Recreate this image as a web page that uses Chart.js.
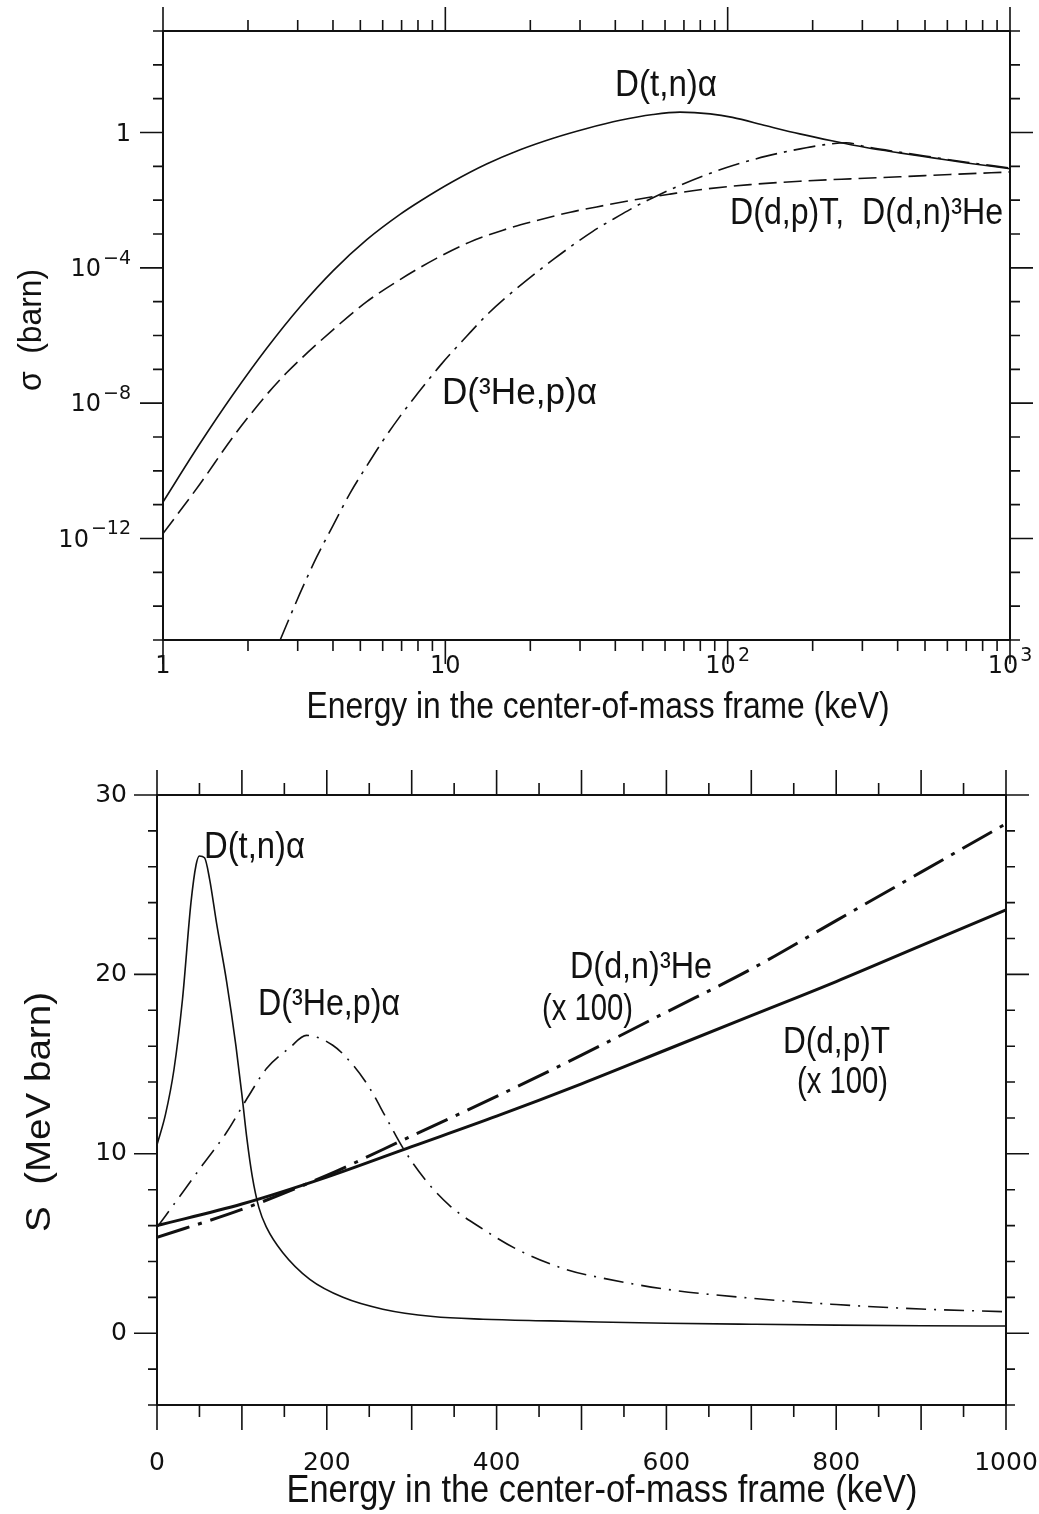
<!DOCTYPE html>
<html>
<head>
<meta charset="utf-8">
<title>Fusion cross sections and S-functions</title>
<script src="https://cdn.jsdelivr.net/npm/chart.js@4.4.1/dist/chart.umd.min.js"></script>
<style>
  html, body { margin: 0; padding: 0; background: #fff; }
  #page { position: relative; width: 1039px; height: 1514px; overflow: hidden; background: #fff; }
  canvas { position: absolute; left: 0; }
  #sigma { top: 0; }
  #sfac { top: 740px; }
</style>
</head>
<body>
<div id="page">
  <canvas id="sigma" width="1039" height="740"></canvas>
  <canvas id="sfac" width="1039" height="774"></canvas>
</div>
<script>
// ---- upper panel: cross section sigma (barn) vs E_cm (keV), log-log ----
const dtE = [1, 1.35, 1.77, 2.33, 3.06, 4.01, 5.27, 6.91, 8.13, 10.6, 14.0, 18.4, 24.1, 31.7, 41.6, 54.4, 67.8, 86.7, 104, 137, 180, 236, 309, 406, 534, 703, 1000];
const dtSigma = [1.2e-11, 6.3e-10, 1.8e-8, 4.2e-7, 7.1e-6, 8.3e-5, 6.8e-4, 3.8e-3, 9.3e-3, 0.035, 0.117, 0.31, 0.68, 1.32, 2.3, 3.4, 4.0, 3.55, 2.8, 1.58, 0.91, 0.56, 0.36, 0.25, 0.178, 0.126, 0.085];

const ddE = [1, 1.35, 1.77, 2.33, 2.74, 4.01, 5.27, 6.91, 9.3, 12.2, 16.0, 21.1, 27.7, 36.3, 47.6, 62.5, 79.8, 120, 180, 272, 407, 614, 1000];
const ddSigma = [1.4e-12, 4e-11, 1e-9, 1.8e-8, 7.9e-8, 1.5e-6, 1e-5, 4.5e-5, 1.9e-4, 5.75e-4, 1.3e-3, 2.5e-3, 4.4e-3, 6.9e-3, 0.0105, 0.0151, 0.0204, 0.0288, 0.0363, 0.0427, 0.049, 0.0575, 0.068];

const he3E = [2.6, 3.05, 3.5, 4.0, 4.6, 5.27, 6.0, 6.9, 7.9, 9.7, 11.9, 14.0, 16.1, 24.2, 33.3, 41.6, 47.6, 54.6, 67.8, 82, 105, 137, 171, 218, 263, 309, 406, 534, 703, 1000];
const he3Sigma = [1e-15, 2.3e-14, 2.8e-13, 2.4e-12, 2.2e-11, 1.4e-10, 7.6e-10, 4e-9, 1.74e-8, 1.45e-7, 9.5e-7, 4e-6, 1.17e-5, 1.8e-4, 1.2e-3, 3.6e-3, 6.8e-3, 0.012, 0.0275, 0.0525, 0.107, 0.2, 0.3, 0.43, 0.5, 0.38, 0.263, 0.186, 0.132, 0.089];

const logETicks = [1, 2, 3, 4, 5, 6, 7, 8, 9, 10, 20, 30, 40, 50, 60, 70, 80, 90, 100, 200, 300, 400, 500, 600, 700, 800, 900, 1000];
const logELabelled = [1, 10, 100, 1000];
const logEBase = ['1', '10', '10', '10'];
const logEExp = ['', '', '2', '3'];
const sigmaTicks = [1e-15, 1e-14, 1e-13, 1e-12, 1e-11, 1e-10, 1e-9, 1e-8, 1e-7, 1e-6, 1e-5, 1e-4, 1e-3, 1e-2, 1e-1, 1, 10, 100, 1000];
const sigmaLabelled = [1e-12, 1e-8, 1e-4, 1];
const sigmaBase = ['10', '10', '10', '1'];
const sigmaExp = ['−12', '−8', '−4', ''];

// ---- lower panel: S-function (MeV barn) vs E_cm (keV), linear ----
const sDtE = [0, 10, 20, 30, 40, 46, 50, 56, 62, 70, 82, 93, 100, 106, 112, 120, 129, 148, 180, 219, 266, 325, 384, 463, 520, 600, 700, 800, 900, 1000];
const sDt = [10.5, 12.2, 14.7, 18.6, 24.0, 26.1, 26.6, 26.5, 25.3, 22.9, 19.6, 16.0, 13.3, 10.8, 8.8, 7.0, 5.9, 4.5, 3.0, 2.0, 1.34, 0.93, 0.78, 0.69, 0.63, 0.56, 0.5, 0.45, 0.42, 0.4];

const sHe3E = [0, 31, 54, 82, 105, 129, 156, 176, 207, 230, 250, 270, 290, 317, 345, 384, 423, 482, 522, 600, 700, 800, 900, 1000];
const sHe3 = [5.9, 7.9, 9.4, 11.2, 13.0, 14.75, 15.9, 16.6, 16.05, 15.0, 13.7, 12.0, 10.3, 8.5, 7.1, 5.8, 4.7, 3.55, 3.1, 2.45, 1.95, 1.6, 1.35, 1.2];

const sDdE = [0, 100, 200, 300, 400, 500, 600, 700, 800, 900, 1000];
const sDdp100 = [6.0, 7.2, 8.7, 10.4, 12.1, 13.9, 15.8, 17.7, 19.6, 21.6, 23.6];
const sDdn100 = [5.35, 6.9, 8.8, 11.0, 13.2, 15.5, 17.9, 20.3, 23.0, 25.7, 28.4];

const sELabelled = [0, 200, 400, 600, 800, 1000];
const sELong = [0, 100, 200, 300, 400, 500, 600, 700, 800, 900, 1000];
const sLabelled = [0, 10, 20, 30];

const textFont = '"Liberation Sans", Arial, sans-serif';
const tickFamily = '"DejaVu Sans", sans-serif';

const pts = (xs, ys) => xs.map((x, i) => ({ x: x, y: ys[i] }));

// box frame and outward tick marks, long ones at the given values
function frameTicks(xLong, yLong, len) {
  return {
    id: 'frameTicks',
    afterDraw(chart) {
      const { ctx, chartArea: a } = chart;
      const x = chart.scales.x, y = chart.scales.y;
      ctx.save();
      ctx.strokeStyle = '#111';
      ctx.lineWidth = 1.6;
      ctx.beginPath();
      x.ticks.forEach(t => {
        const px = x.getPixelForValue(t.value);
        const l = xLong.includes(t.value) ? len.xLong : len.xShort;
        ctx.moveTo(px, a.bottom); ctx.lineTo(px, a.bottom + l);
        ctx.moveTo(px, a.top); ctx.lineTo(px, a.top - l);
      });
      y.ticks.forEach(t => {
        const py = y.getPixelForValue(t.value);
        const l = yLong.includes(t.value) ? len.yLong : len.yShort;
        ctx.moveTo(a.left, py); ctx.lineTo(a.left - l, py);
        ctx.moveTo(a.right, py); ctx.lineTo(a.right + l, py);
      });
      ctx.stroke();
      ctx.lineWidth = 2;
      ctx.strokeRect(a.left, a.top, a.right - a.left, a.bottom - a.top);
      ctx.restore();
    }
  };
}

// "10" with a raised exponent for the log axes
function powerLabels() {
  return {
    id: 'powerLabels',
    afterDraw(chart) {
      const { ctx, chartArea: a } = chart;
      const x = chart.scales.x, y = chart.scales.y;
      const base = '24px ' + tickFamily, sup = '19px ' + tickFamily;
      const piece = (b, e) => {
        ctx.font = base; const wb = ctx.measureText(b).width;
        ctx.font = sup; const we = e ? ctx.measureText(e).width + 2 : 0;
        return { wb: wb, we: we };
      };
      ctx.save();
      ctx.fillStyle = '#111';
      ctx.textAlign = 'left';
      ctx.textBaseline = 'middle';
      logELabelled.forEach((v, i) => {
        const w = piece(logEBase[i], logEExp[i]);
        const x0 = x.getPixelForValue(v) - (w.wb + w.we) / 2;
        const yc = a.bottom + 27;
        ctx.font = base; ctx.fillText(logEBase[i], x0, yc);
        if (logEExp[i]) { ctx.font = sup; ctx.fillText(logEExp[i], x0 + w.wb + 2, yc - 11); }
      });
      sigmaLabelled.forEach((v, i) => {
        const w = piece(sigmaBase[i], sigmaExp[i]);
        const x0 = a.left - 32 - (w.wb + w.we);
        const yc = y.getPixelForValue(v) + 2;
        ctx.font = base; ctx.fillText(sigmaBase[i], x0, yc);
        if (sigmaExp[i]) { ctx.font = sup; ctx.fillText(sigmaExp[i], x0 + w.wb + 2, yc - 11); }
      });
      ctx.restore();
    }
  };
}

// reaction names and axis titles, squeezed to the printed width
function texts(items) {
  return {
    id: 'texts',
    afterDraw(chart) {
      const ctx = chart.ctx;
      ctx.save();
      ctx.fillStyle = '#111';
      ctx.textBaseline = 'middle';
      items.forEach(it => {
        ctx.save();
        ctx.font = it.size + 'px ' + textFont;
        const sx = it.width / ctx.measureText(it.text).width;
        ctx.translate(it.x, it.y);
        if (it.rotate) ctx.rotate(-Math.PI / 2);
        ctx.scale(sx, 1);
        ctx.textAlign = it.align || 'left';
        ctx.fillText(it.text, 0, 0);
        ctx.restore();
      });
      ctx.restore();
    }
  };
}

function line(data, width, dash) {
  return {
    data: data,
    borderColor: '#111',
    borderWidth: width,
    borderDash: dash,
    borderCapStyle: 'butt',
    pointRadius: 0,
    fill: false,
    cubicInterpolationMode: 'monotone'
  };
}

new Chart(document.getElementById('sigma'), {
  type: 'line',
  data: {
    datasets: [
      line(pts(dtE, dtSigma), 1.6, []),
      line(pts(ddE, ddSigma), 1.6, [18, 7]),
      line(pts(he3E, he3Sigma), 1.6, [22, 7, 3, 7])
    ]
  },
  options: {
    responsive: false,
    animation: false,
    events: [],
    layout: { padding: { top: 31, right: 29, left: 0, bottom: 0 } },
    plugins: { legend: { display: false }, tooltip: { enabled: false } },
    scales: {
      x: {
        type: 'logarithmic',
        min: 1,
        max: 1000,
        grid: { display: false },
        border: { display: false },
        afterBuildTicks: s => { s.ticks = logETicks.map(v => ({ value: v })); },
        afterFit: s => { s.height = 100; },
        ticks: { display: false }
      },
      y: {
        type: 'logarithmic',
        min: 1e-15,
        max: 1e3,
        grid: { display: false },
        border: { display: false },
        afterBuildTicks: s => { s.ticks = sigmaTicks.map(v => ({ value: v })); },
        afterFit: s => { s.width = 163; },
        ticks: { display: false }
      }
    }
  },
  plugins: [
    frameTicks(logELabelled, sigmaLabelled, { xLong: 24, xShort: 11, yLong: 23, yShort: 10 }),
    powerLabels(),
    texts([
      { text: 'Energy in the center-of-mass frame (keV)', x: 598, y: 708, size: 37, width: 583, align: 'center' },
      { text: 'σ  (barn)', x: 32, y: 330, size: 34, width: 122, align: 'center', rotate: true },
      { text: 'D(t,n)α', x: 615, y: 86, size: 37, width: 102 },
      { text: 'D(d,p)T,  D(d,n)³He', x: 730, y: 214, size: 37, width: 273 },
      { text: 'D(³He,p)α', x: 442, y: 394, size: 37, width: 155 }
    ])
  ]
});

new Chart(document.getElementById('sfac'), {
  type: 'line',
  data: {
    datasets: [
      line(pts(sDtE, sDt), 1.6, []),
      line(pts(sHe3E, sHe3), 1.6, [20, 8, 2, 8]),
      line(pts(sDdE, sDdp100), 3, []),
      line(pts(sDdE, sDdn100), 3, [34, 9, 4, 9])
    ]
  },
  options: {
    responsive: false,
    animation: false,
    events: [],
    layout: { padding: { top: 55, right: 33, left: 0, bottom: 0 } },
    plugins: { legend: { display: false }, tooltip: { enabled: false } },
    scales: {
      x: {
        type: 'linear',
        min: 0,
        max: 1000,
        grid: { display: false, drawTicks: true, tickLength: 43 },
        border: { display: false },
        afterFit: s => { s.height = 109; },
        ticks: {
          stepSize: 50,
          autoSkip: false,
          maxRotation: 0,
          padding: 0,
          color: '#111',
          font: { family: tickFamily, size: 25 },
          callback: v => (sELabelled.includes(v) ? String(v) : '')
        }
      },
      y: {
        type: 'linear',
        min: -4,
        max: 30,
        grid: { display: false, drawTicks: true, tickLength: 30 },
        border: { display: false },
        afterFit: s => { s.width = 157; },
        ticks: {
          stepSize: 2,
          autoSkip: false,
          padding: 0,
          color: '#111',
          font: { family: tickFamily, size: 25 },
          callback: v => (sLabelled.includes(v) ? String(v) : '')
        }
      }
    }
  },
  plugins: [
    frameTicks(sELong, sLabelled, { xLong: 25, xShort: 12, yLong: 23, yShort: 9 }),
    texts([
      { text: 'Energy in the center-of-mass frame (keV)', x: 602, y: 752, size: 38, width: 631, align: 'center' },
      { text: 'S  (MeV barn)', x: 40, y: 372, size: 35, width: 240, align: 'center', rotate: true },
      { text: 'D(t,n)α', x: 204, y: 108, size: 37, width: 101 },
      { text: 'D(³He,p)α', x: 258, y: 265, size: 37, width: 142 },
      { text: 'D(d,n)³He', x: 570, y: 228, size: 37, width: 142 },
      { text: '(x 100)', x: 542, y: 270, size: 36, width: 91 },
      { text: 'D(d,p)T', x: 783, y: 303, size: 37, width: 107 },
      { text: '(x 100)', x: 797, y: 343, size: 36, width: 91 }
    ])
  ]
});
</script>
</body>
</html>
